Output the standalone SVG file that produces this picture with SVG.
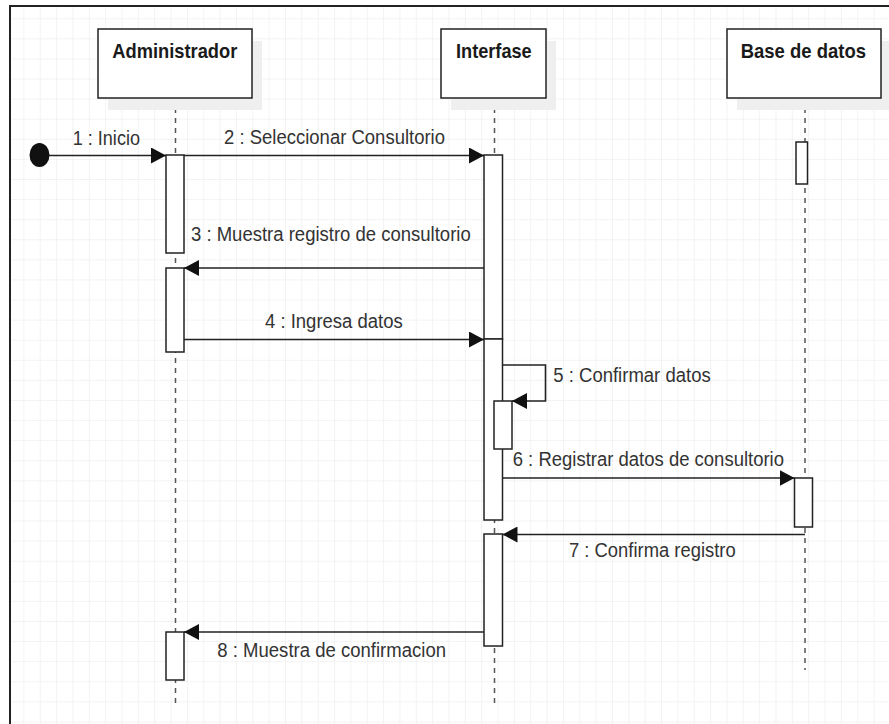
<svg xmlns="http://www.w3.org/2000/svg" width="889" height="724" viewBox="0 0 889 724">
<style>
.hdr{font-family:"Liberation Sans",Arial,sans-serif;font-weight:bold;font-size:21px;fill:#1a1a1a}
.lbl{font-family:"Liberation Sans",Arial,sans-serif;font-size:19.5px;fill:#333}
.box{fill:#fff;stroke:#222;stroke-width:1.5}
.shadow{fill:#efefef;stroke:none}
.life{stroke:#555;stroke-width:1.5;stroke-dasharray:5 5;fill:none}
.bar{fill:#fff;stroke:#222;stroke-width:1.5}
.msg{stroke:#222;stroke-width:1.6;fill:none;marker-end:url(#arr)}
</style>
<defs>
<pattern id="grid" patternUnits="userSpaceOnUse" x="7.05" y="-1.8" width="16.35" height="20.09">
<path d="M0,0 H16.35 M0,0 V20.09" stroke="#e7e7e7" stroke-width="1" fill="none"/>
</pattern>
<marker id="arr" markerUnits="userSpaceOnUse" markerWidth="16" markerHeight="16" refX="15" refY="8" orient="auto">
<path d="M0,0 L15,8 L0,16 Z" fill="#111"/>
</marker>
</defs>
<rect x="0" y="0" width="889" height="724" fill="#fff"/>
<rect x="10" y="6" width="879" height="718" fill="url(#grid)"/>
<path d="M10,724 V6 H889" stroke="#222" stroke-width="2" fill="none"/>

<g id="lifelines">
<line class="life" x1="175.5" y1="98" x2="175.5" y2="703"/>
<line class="life" x1="494.5" y1="98" x2="494.5" y2="703"/>
<line class="life" x1="805" y1="98" x2="805" y2="670"/>
</g>

<g id="administrador">
<rect class="shadow" x="108" y="41" width="154" height="69"/>
<rect class="box" x="98" y="29" width="154" height="69"/>
<text class="hdr" x="112.3" y="57.7" textLength="125" lengthAdjust="spacingAndGlyphs">Administrador</text>
<rect class="bar" x="166" y="155" width="18" height="98"/>
<rect class="bar" x="166" y="268" width="18" height="84"/>
<rect class="bar" x="166" y="632" width="18" height="48"/>
</g>

<g id="interfase">
<rect class="shadow" x="451" y="41" width="105" height="69"/>
<rect class="box" x="441" y="29" width="105" height="69"/>
<text class="hdr" x="456" y="57.7" textLength="75.7" lengthAdjust="spacingAndGlyphs">Interfase</text>
<rect class="bar" x="484" y="155" width="18.5" height="184"/>
<rect class="bar" x="484" y="339" width="18.5" height="181"/>
<rect class="bar" x="494" y="401" width="18" height="48"/>
<rect class="bar" x="484" y="534" width="18.5" height="112"/>
</g>

<g id="base-de-datos">
<rect class="shadow" x="737" y="41" width="154" height="69"/>
<rect class="box" x="727" y="29" width="154" height="69"/>
<text class="hdr" x="740.7" y="57.7" textLength="125.3" lengthAdjust="spacingAndGlyphs">Base de datos</text>
<rect class="bar" x="796" y="142" width="11.5" height="42"/>
<rect class="bar" x="794.5" y="478" width="18" height="49"/>
</g>

<g id="start">
<ellipse cx="39.5" cy="155" rx="10" ry="12" fill="#111"/>
</g>

<g id="connectors">
<line class="msg" x1="49" y1="155.5" x2="166" y2="155.5"/>
<line class="msg" x1="184" y1="155.5" x2="484" y2="155.5"/>
<line class="msg" x1="484" y1="268" x2="184" y2="268"/>
<line class="msg" x1="184" y1="339.5" x2="484" y2="339.5"/>
<path class="msg" d="M502.5,365 H545.5 V401 H512"/>
<line class="msg" x1="502.5" y1="478" x2="794.5" y2="478"/>
<line class="msg" x1="805" y1="534.5" x2="502.5" y2="534.5"/>
<line class="msg" x1="484" y1="632" x2="184" y2="632"/>
</g>

<g id="labels">
<text class="lbl" x="72.7" y="145" textLength="67.3" lengthAdjust="spacingAndGlyphs">1 : Inicio</text>
<text class="lbl" x="224" y="144" textLength="221" lengthAdjust="spacingAndGlyphs">2 : Seleccionar Consultorio</text>
<text class="lbl" x="191" y="240.7" textLength="279.7" lengthAdjust="spacingAndGlyphs">3 : Muestra registro de consultorio</text>
<text class="lbl" x="265" y="328.3" textLength="137.7" lengthAdjust="spacingAndGlyphs">4 : Ingresa datos</text>
<text class="lbl" x="553.3" y="382.3" textLength="157.4" lengthAdjust="spacingAndGlyphs">5 : Confirmar datos</text>
<text class="lbl" x="512.7" y="465.7" textLength="271.3" lengthAdjust="spacingAndGlyphs">6 : Registrar datos de consultorio</text>
<text class="lbl" x="569" y="556.7" textLength="166.7" lengthAdjust="spacingAndGlyphs">7 : Confirma registro</text>
<text class="lbl" x="217.3" y="656.7" textLength="228.7" lengthAdjust="spacingAndGlyphs">8 : Muestra de confirmacion</text>
</g>
</svg>
